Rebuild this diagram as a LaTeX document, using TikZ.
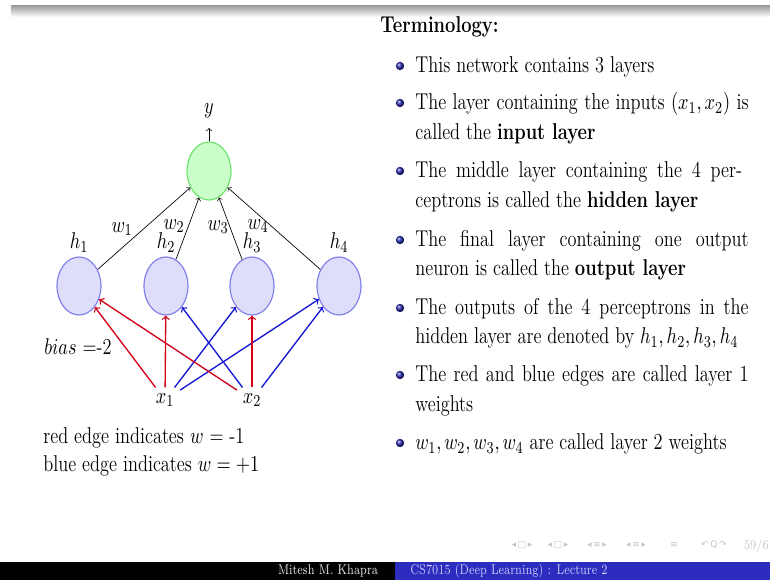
\documentclass[tikz,border=0pt]{standalone}
\usepackage{fontspec}
\usepackage{amsmath}
\usepackage{graphicx}
\usetikzlibrary{shapes.geometric,positioning}

\newfontfamily\navfont{DejaVu Sans}
\newcommand{\tallt}[1]{\scalebox{1}[1.25]{#1}}

\definecolor{hidfill}{RGB}{222,222,250}
\definecolor{hiddraw}{RGB}{128,128,236}
\definecolor{outfill}{RGB}{202,255,202}
\definecolor{outdraw}{RGB}{110,228,110}
\definecolor{redge}{RGB}{212,0,24}
\definecolor{bedge}{RGB}{22,22,212}
\definecolor{footblue}{RGB}{44,44,190}
\definecolor{footlight}{RGB}{205,205,255}
\definecolor{ballblue}{RGB}{40,40,170}

\tikzset{
  hidden/.style={ellipse, draw=hiddraw, fill=hidfill, line width=0.7pt,
    minimum width=26.4pt, minimum height=34.8pt, inner sep=0pt},
  outnode/.style={hidden, draw=outdraw, fill=outfill},
  wt/.style={->, thin},
  negedge/.style={->, draw=redge, line width=0.8pt},
  posedge/.style={->, draw=bedge, line width=0.8pt},
  txtline/.style={anchor=base west, inner sep=0pt},
  foot/.style={font=\fontsize{6.5}{8}\selectfont, inner sep=0pt},
  nav/.style={font=\navfont\fontsize{5.5}{6}\selectfont, text=gray!45, inner sep=0pt}
}

\begin{document}
\begin{tikzpicture}[x=0.6pt, y=-0.6pt, font=\fontsize{11}{13}\selectfont]

\useasboundingbox (0,0) rectangle (770,580);
\fill[white] (0,0) rectangle (770,580);

% top edge of the screen
\shade[top color=gray!75, bottom color=white] (11,6) rectangle (770,17);

% network
\node[outnode] (out) at (209,171) {};
\node[hidden] (h1) at (79,286) {};
\node[hidden] (h2) at (166,286) {};
\node[hidden] (h3) at (252,286) {};
\node[hidden] (h4) at (339,286) {};

\node (lh1) [above=-1pt of h1] {\tallt{$h_1$}};
\node (lh2) [above=-1pt of h2] {\tallt{$h_2$}};
\node (lh3) [above=-1pt of h3] {\tallt{$h_3$}};
\node (lh4) [above=-1pt of h4] {\tallt{$h_4$}};

\node (x1) at (165,400) {\tallt{$x_1$}};
\node (x2) at (252,400) {\tallt{$x_2$}};

\coordinate (ytip) at (209,128);
\node (ylab) at (209,111) {\tallt{$y$}};
\draw[wt] (out) -- (ytip);

\draw[wt] (h1) -- (out);
\draw[wt] (h2) -- (out);
\draw[wt] (h3) -- (out);
\draw[wt] (h4) -- (out);

\node (w1) at (122,229) {\tallt{$w_1$}};
\node (w2) at (174,226) {\tallt{$w_2$}};
\node (w3) at (218,227) {\tallt{$w_3$}};
\node (w4) at (258,226) {\tallt{$w_4$}};

\draw[negedge] (x1) -- (h1);
\draw[negedge] (x1) -- (h2);
\draw[posedge] (x1) -- (h3);
\draw[posedge] (x1) -- (h4);

\draw[negedge] (x2) -- (h1);
\draw[posedge] (x2) -- (h2);
\draw[negedge] (x2) -- (h3);
\draw[posedge] (x2) -- (h4);

\node (bias) at (78,347) {\tallt{$bias$ =-2}};

\node[txtline] (redleg) at (43,444) {\tallt{red edge indicates $w$ = -1}};
\node[txtline] (blueleg) at (43,471) {\tallt{blue edge indicates $w = +1$}};

% terminology
\node[txtline] (term) at (380,33) {\tallt{\textbf{Terminology:}}};

\shade[ball color=ballblue] (400,66) circle (2.5pt);
\shade[ball color=ballblue] (400,103) circle (2.5pt);
\shade[ball color=ballblue] (400,171) circle (2.5pt);
\shade[ball color=ballblue] (400,240) circle (2.5pt);
\shade[ball color=ballblue] (400,308) circle (2.5pt);
\shade[ball color=ballblue] (400,375) circle (2.5pt);
\shade[ball color=ballblue] (400,443) circle (2.5pt);

\node[txtline] (l1) at (415,73) {\tallt{This network contains 3 layers}};
\node[txtline] (l2a) at (415,110) {\tallt{\makebox[200pt][s]{The layer containing the inputs $(x_1, x_2)$ is}}};
\node[txtline] (l2b) at (415,140) {\tallt{called the \textbf{input layer}}};
\node[txtline] (l3a) at (415,178) {\tallt{\makebox[196pt][s]{The middle layer containing the 4 per-}}};
\node[txtline] (l3b) at (415,208) {\tallt{ceptrons is called the \textbf{hidden layer}}};
\node[txtline] (l4a) at (415,247) {\tallt{\makebox[200pt][s]{The final layer containing one output}}};
\node[txtline] (l4b) at (415,276) {\tallt{neuron is called the \textbf{output layer}}};
\node[txtline] (l5a) at (415,315) {\tallt{\makebox[200pt][s]{The outputs of the 4 perceptrons in the}}};
\node[txtline] (l5b) at (415,344) {\tallt{hidden layer are denoted by $h_1, h_2, h_3, h_4$}};
\node[txtline] (l6a) at (415,382) {\tallt{\makebox[200pt][s]{The red and blue edges are called layer 1}}};
\node[txtline] (l6b) at (415,412) {\tallt{weights}};
\node[txtline] (l7) at (415,450) {\tallt{$w_1, w_2, w_3, w_4$ are called layer 2 weights}};

% navigation symbols
\node[nav] (nav1) at (522,545) {◂\,□\,▸};
\node[nav] (nav2) at (558,545) {◂\,□\,▸};
\node[nav] (nav3) at (597,545) {◂\,≡\,▸};
\node[nav] (nav4) at (636,545) {◂\,≡\,▸};
\node[nav] (nav5) at (674,545) {≡};
\node[nav] (nav6) at (714,545) {↶\,Q\,↷};
\node[nav, font=\fontsize{6.5}{7}\selectfont, anchor=base east] (page) at (769,549) {\tallt{59/6}};

% footline
\fill[black] (0,562) rectangle (395,580);
\fill[footblue] (395,562) rectangle (770,580);
\node[foot, text=gray!15] (author) at (328,571) {\scalebox{1}[1.3]{Mitesh M. Khapra}};
\node[foot, text=footlight] (course) at (509,571) {\scalebox{1}[1.3]{CS7015 (Deep Learning) : Lecture 2}};

\end{tikzpicture}
\end{document}
